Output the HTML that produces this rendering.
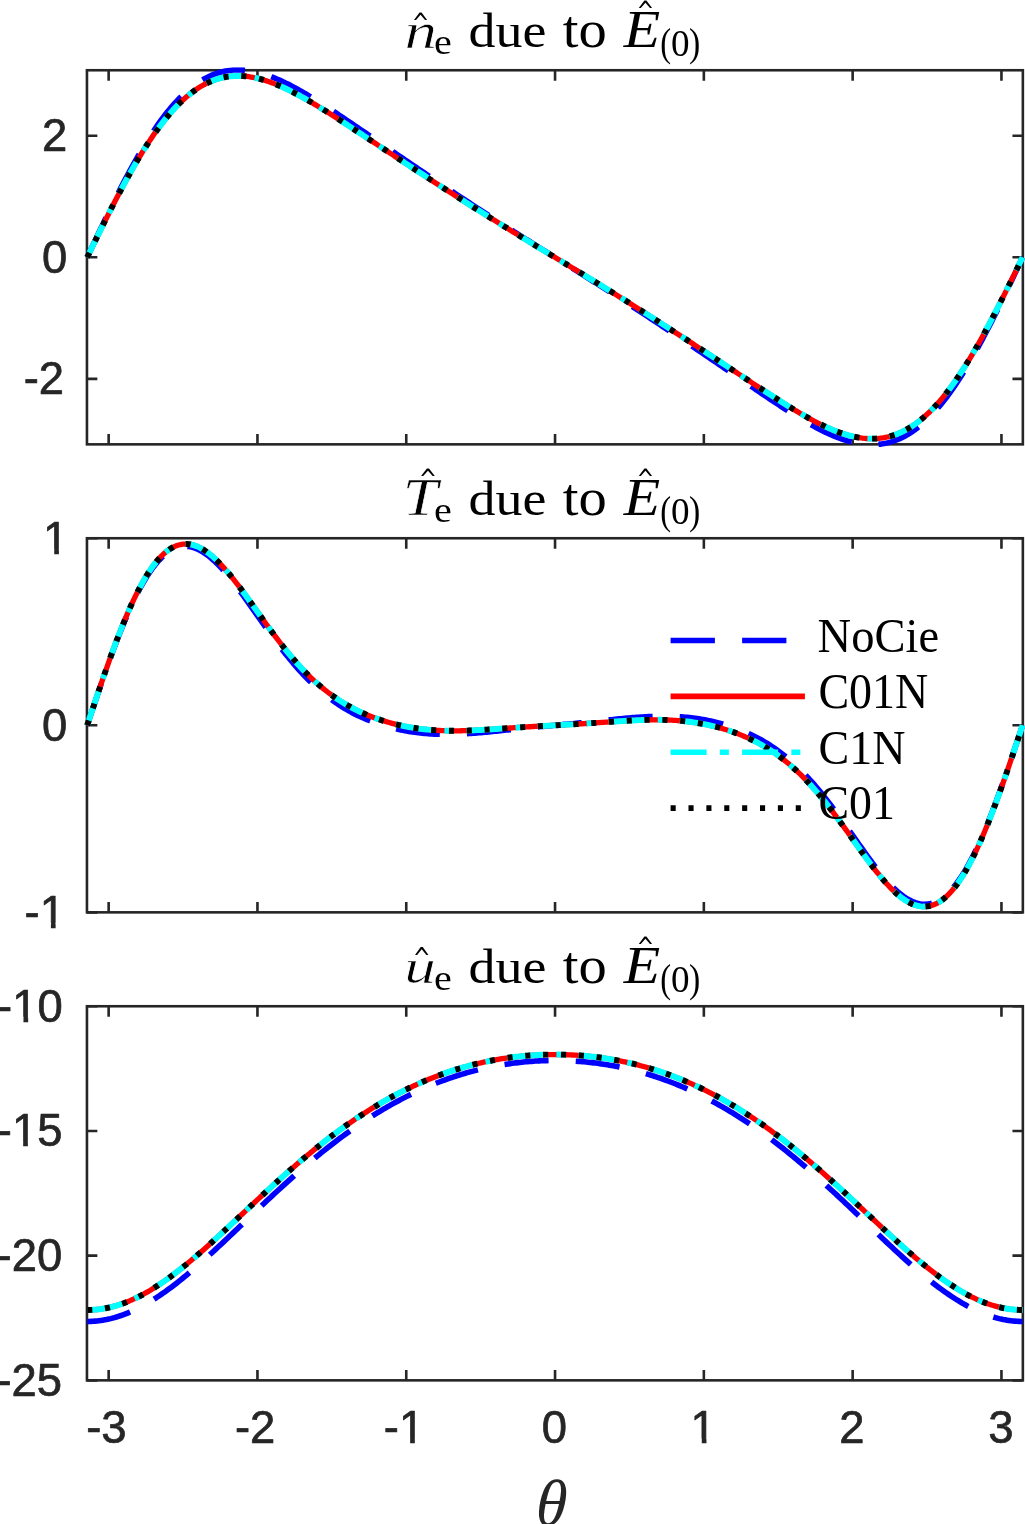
<!DOCTYPE html>
<html><head><meta charset="utf-8"><title>plot</title><style>html,body{margin:0;padding:0;background:#fff}svg{display:block;will-change:transform}</style></head><body>
<svg width="1025" height="1524" viewBox="0 0 1025 1524">
<rect width="1025" height="1524" fill="#fff"/>
<g stroke="#262626" stroke-width="2.60" fill="none">
<rect x="86.95" y="70.25" width="935.90" height="374.10"/>
<path d="M108.65 444.35V433.95 M108.65 70.25V80.65 M257.45 444.35V433.95 M257.45 70.25V80.65 M406.25 444.35V433.95 M406.25 70.25V80.65 M555.05 444.35V433.95 M555.05 70.25V80.65 M703.85 444.35V433.95 M703.85 70.25V80.65 M852.65 444.35V433.95 M852.65 70.25V80.65 M1001.45 444.35V433.95 M1001.45 70.25V80.65 M86.95 135.74H97.35 M1022.85 135.74H1012.45 M86.95 257.30H97.35 M1022.85 257.30H1012.45 M86.95 378.86H97.35 M1022.85 378.86H1012.45 "/>
</g>
<g stroke="#262626" stroke-width="2.60" fill="none">
<rect x="86.95" y="538.25" width="935.90" height="374.10"/>
<path d="M108.65 912.35V901.95 M108.65 538.25V548.65 M257.45 912.35V901.95 M257.45 538.25V548.65 M406.25 912.35V901.95 M406.25 538.25V548.65 M555.05 912.35V901.95 M555.05 538.25V548.65 M703.85 912.35V901.95 M703.85 538.25V548.65 M852.65 912.35V901.95 M852.65 538.25V548.65 M1001.45 912.35V901.95 M1001.45 538.25V548.65 M86.95 538.25H97.35 M1022.85 538.25H1012.45 M86.95 725.30H97.35 M1022.85 725.30H1012.45 M86.95 912.35H97.35 M1022.85 912.35H1012.45 "/>
</g>
<g stroke="#262626" stroke-width="2.60" fill="none">
<rect x="86.95" y="1006.25" width="935.90" height="374.10"/>
<path d="M108.65 1380.35V1369.95 M108.65 1006.25V1016.65 M257.45 1380.35V1369.95 M257.45 1006.25V1016.65 M406.25 1380.35V1369.95 M406.25 1006.25V1016.65 M555.05 1380.35V1369.95 M555.05 1006.25V1016.65 M703.85 1380.35V1369.95 M703.85 1006.25V1016.65 M852.65 1380.35V1369.95 M852.65 1006.25V1016.65 M1001.45 1380.35V1369.95 M1001.45 1006.25V1016.65 M86.95 1006.25H97.35 M1022.85 1006.25H1012.45 M86.95 1130.95H97.35 M1022.85 1130.95H1012.45 M86.95 1255.65H97.35 M1022.85 1255.65H1012.45 M86.95 1380.35H97.35 M1022.85 1380.35H1012.45 "/>
</g>
<clipPath id="c1"><rect x="83.95" y="67.25" width="941.90" height="380.10"/></clipPath>
<g clip-path="url(#c1)" fill="none" stroke-width="5.56" stroke-linejoin="round">
<path d="M87.21 257.30 L89.16 253.16 L91.11 249.02 L93.06 244.89 L95.01 240.77 L96.95 236.65 L98.90 232.55 L100.85 228.46 L102.80 224.38 L104.75 220.33 L106.70 216.30 L108.65 212.29 L110.60 208.30 L112.54 204.34 L114.49 200.42 L116.44 196.52 L118.39 192.66 L120.34 188.83 L122.29 185.05 L124.24 181.30 L126.19 177.59 L128.13 173.93 L130.08 170.32 L132.03 166.75 L133.98 163.23 L135.93 159.76 L137.88 156.35 L139.83 152.99 L141.77 149.68 L143.72 146.43 L145.67 143.24 L147.62 140.11 L149.57 137.04 L151.52 134.04 L153.47 131.09 L155.42 128.21 L157.36 125.40 L159.31 122.65 L161.26 119.97 L163.21 117.36 L165.16 114.81 L167.11 112.34 L169.06 109.93 L171.01 107.60 L172.95 105.34 L174.90 103.15 L176.85 101.03 L178.80 98.98 L180.75 97.00 L182.70 95.10 L184.65 93.27 L186.59 91.51 L188.54 89.83 L190.49 88.21 L192.44 86.67 L194.39 85.20 L196.34 83.81 L198.29 82.48 L200.24 81.22 L202.18 80.04 L204.13 78.92 L206.08 77.88 L208.03 76.90 L209.98 75.99 L211.93 75.15 L213.88 74.37 L215.83 73.66 L217.77 73.02 L219.72 72.44 L221.67 71.92 L223.62 71.47 L225.57 71.07 L227.52 70.74 L229.47 70.47 L231.42 70.25 L233.36 70.09 L235.31 69.99 L237.26 69.95 L239.21 69.95 L241.16 70.01 L243.11 70.12 L245.06 70.28 L247.00 70.49 L248.95 70.75 L250.90 71.06 L252.85 71.41 L254.80 71.80 L256.75 72.24 L258.70 72.72 L260.65 73.24 L262.59 73.80 L264.54 74.40 L266.49 75.03 L268.44 75.70 L270.39 76.41 L272.34 77.14 L274.29 77.91 L276.24 78.72 L278.18 79.55 L280.13 80.41 L282.08 81.29 L284.03 82.21 L285.98 83.14 L287.93 84.11 L289.88 85.09 L291.82 86.10 L293.77 87.13 L295.72 88.18 L297.67 89.25 L299.62 90.34 L301.57 91.44 L303.52 92.57 L305.47 93.70 L307.41 94.85 L309.36 96.02 L311.31 97.20 L313.26 98.39 L315.21 99.59 L317.16 100.81 L319.11 102.03 L321.06 103.27 L323.00 104.51 L324.95 105.76 L326.90 107.02 L328.85 108.29 L330.80 109.56 L332.75 110.84 L334.70 112.13 L336.65 113.42 L338.59 114.72 L340.54 116.02 L342.49 117.32 L344.44 118.63 L346.39 119.94 L348.34 121.26 L350.29 122.57 L352.23 123.89 L354.18 125.21 L356.13 126.54 L358.08 127.86 L360.03 129.19 L361.98 130.52 L363.93 131.84 L365.88 133.17 L367.82 134.50 L369.77 135.83 L371.72 137.16 L373.67 138.49 L375.62 139.82 L377.57 141.15 L379.52 142.48 L381.47 143.81 L383.41 145.14 L385.36 146.47 L387.31 147.80 L389.26 149.13 L391.21 150.46 L393.16 151.79 L395.11 153.11 L397.05 154.44 L399.00 155.76 L400.95 157.09 L402.90 158.41 L404.85 159.73 L406.80 161.05 L408.75 162.37 L410.70 163.69 L412.64 165.01 L414.59 166.33 L416.54 167.64 L418.49 168.96 L420.44 170.27 L422.39 171.58 L424.34 172.90 L426.29 174.21 L428.23 175.51 L430.18 176.82 L432.13 178.13 L434.08 179.43 L436.03 180.74 L437.98 182.04 L439.93 183.34 L441.88 184.64 L443.82 185.94 L445.77 187.24 L447.72 188.54 L449.67 189.83 L451.62 191.12 L453.57 192.41 L455.52 193.70 L457.46 194.99 L459.41 196.28 L461.36 197.56 L463.31 198.85 L465.26 200.13 L467.21 201.41 L469.16 202.69 L471.11 203.96 L473.05 205.24 L475.00 206.51 L476.95 207.78 L478.90 209.05 L480.85 210.32 L482.80 211.58 L484.75 212.85 L486.70 214.11 L488.64 215.37 L490.59 216.63 L492.54 217.88 L494.49 219.14 L496.44 220.39 L498.39 221.64 L500.34 222.89 L502.28 224.14 L504.23 225.38 L506.18 226.63 L508.13 227.87 L510.08 229.11 L512.03 230.35 L513.98 231.58 L515.93 232.82 L517.87 234.05 L519.82 235.29 L521.77 236.52 L523.72 237.75 L525.67 238.98 L527.62 240.20 L529.57 241.43 L531.52 242.65 L533.46 243.88 L535.41 245.10 L537.36 246.32 L539.31 247.55 L541.26 248.77 L543.21 249.99 L545.16 251.21 L547.11 252.43 L549.05 253.64 L551.00 254.86 L552.95 256.08 L554.90 257.30 L556.85 258.52 L558.80 259.74 L560.75 260.96 L562.69 262.17 L564.64 263.39 L566.59 264.61 L568.54 265.83 L570.49 267.05 L572.44 268.28 L574.39 269.50 L576.34 270.72 L578.28 271.95 L580.23 273.17 L582.18 274.40 L584.13 275.62 L586.08 276.85 L588.03 278.08 L589.98 279.31 L591.93 280.55 L593.87 281.78 L595.82 283.02 L597.77 284.25 L599.72 285.49 L601.67 286.73 L603.62 287.97 L605.57 289.22 L607.52 290.46 L609.46 291.71 L611.41 292.96 L613.36 294.21 L615.31 295.46 L617.26 296.72 L619.21 297.97 L621.16 299.23 L623.10 300.49 L625.05 301.75 L627.00 303.02 L628.95 304.28 L630.90 305.55 L632.85 306.82 L634.80 308.09 L636.75 309.36 L638.69 310.64 L640.64 311.91 L642.59 313.19 L644.54 314.47 L646.49 315.75 L648.44 317.04 L650.39 318.32 L652.34 319.61 L654.28 320.90 L656.23 322.19 L658.18 323.48 L660.13 324.77 L662.08 326.06 L664.03 327.36 L665.98 328.66 L667.92 329.96 L669.87 331.26 L671.82 332.56 L673.77 333.86 L675.72 335.17 L677.67 336.47 L679.62 337.78 L681.57 339.09 L683.51 340.39 L685.46 341.70 L687.41 343.02 L689.36 344.33 L691.31 345.64 L693.26 346.96 L695.21 348.27 L697.16 349.59 L699.10 350.91 L701.05 352.23 L703.00 353.55 L704.95 354.87 L706.90 356.19 L708.85 357.51 L710.80 358.84 L712.75 360.16 L714.69 361.49 L716.64 362.81 L718.59 364.14 L720.54 365.47 L722.49 366.80 L724.44 368.13 L726.39 369.46 L728.33 370.79 L730.28 372.12 L732.23 373.45 L734.18 374.78 L736.13 376.11 L738.08 377.44 L740.03 378.77 L741.98 380.10 L743.92 381.43 L745.87 382.76 L747.82 384.08 L749.77 385.41 L751.72 386.74 L753.67 388.06 L755.62 389.39 L757.57 390.71 L759.51 392.03 L761.46 393.34 L763.41 394.66 L765.36 395.97 L767.31 397.28 L769.26 398.58 L771.21 399.88 L773.15 401.18 L775.10 402.47 L777.05 403.76 L779.00 405.04 L780.95 406.31 L782.90 407.58 L784.85 408.84 L786.80 410.09 L788.74 411.33 L790.69 412.57 L792.64 413.79 L794.59 415.01 L796.54 416.21 L798.49 417.40 L800.44 418.58 L802.39 419.75 L804.33 420.90 L806.28 422.03 L808.23 423.16 L810.18 424.26 L812.13 425.35 L814.08 426.42 L816.03 427.47 L817.98 428.50 L819.92 429.51 L821.87 430.49 L823.82 431.46 L825.77 432.39 L827.72 433.31 L829.67 434.19 L831.62 435.05 L833.56 435.88 L835.51 436.69 L837.46 437.46 L839.41 438.19 L841.36 438.90 L843.31 439.57 L845.26 440.20 L847.21 440.80 L849.15 441.36 L851.10 441.88 L853.05 442.36 L855.00 442.80 L856.95 443.19 L858.90 443.54 L860.85 443.85 L862.80 444.11 L864.74 444.32 L866.69 444.48 L868.64 444.59 L870.59 444.65 L872.54 444.65 L874.49 444.61 L876.44 444.51 L878.38 444.35 L880.33 444.13 L882.28 443.86 L884.23 443.53 L886.18 443.13 L888.13 442.68 L890.08 442.16 L892.03 441.58 L893.97 440.94 L895.92 440.23 L897.87 439.45 L899.82 438.61 L901.77 437.70 L903.72 436.72 L905.67 435.68 L907.62 434.56 L909.56 433.38 L911.51 432.12 L913.46 430.79 L915.41 429.40 L917.36 427.93 L919.31 426.39 L921.26 424.77 L923.21 423.09 L925.15 421.33 L927.10 419.50 L929.05 417.60 L931.00 415.62 L932.95 413.57 L934.90 411.45 L936.85 409.26 L938.79 407.00 L940.74 404.67 L942.69 402.26 L944.64 399.79 L946.59 397.24 L948.54 394.63 L950.49 391.95 L952.44 389.20 L954.38 386.39 L956.33 383.51 L958.28 380.56 L960.23 377.56 L962.18 374.49 L964.13 371.36 L966.08 368.17 L968.03 364.92 L969.97 361.61 L971.92 358.25 L973.87 354.84 L975.82 351.37 L977.77 347.85 L979.72 344.28 L981.67 340.67 L983.61 337.01 L985.56 333.30 L987.51 329.55 L989.46 325.77 L991.41 321.94 L993.36 318.08 L995.31 314.18 L997.26 310.26 L999.20 306.30 L1001.15 302.31 L1003.10 298.30 L1005.05 294.27 L1007.00 290.22 L1008.95 286.14 L1010.90 282.05 L1012.85 277.95 L1014.79 273.83 L1016.74 269.71 L1018.69 265.58 L1020.64 261.44 L1022.59 257.30" stroke="#0000ff" stroke-dasharray="44.238 27.162"/>
<defs><path id="m1" d="M87.21 257.30 L89.16 253.29 L91.11 249.29 L93.06 245.29 L95.01 241.29 L96.95 237.31 L98.90 233.34 L100.85 229.38 L102.80 225.44 L104.75 221.51 L106.70 217.61 L108.65 213.72 L110.60 209.87 L112.54 206.04 L114.49 202.23 L116.44 198.46 L118.39 194.72 L120.34 191.02 L122.29 187.36 L124.24 183.73 L126.19 180.14 L128.13 176.60 L130.08 173.10 L132.03 169.64 L133.98 166.24 L135.93 162.88 L137.88 159.57 L139.83 156.32 L141.77 153.12 L143.72 149.97 L145.67 146.89 L147.62 143.86 L149.57 140.88 L151.52 137.97 L153.47 135.12 L155.42 132.34 L157.36 129.61 L159.31 126.95 L161.26 124.36 L163.21 121.83 L165.16 119.36 L167.11 116.97 L169.06 114.64 L171.01 112.38 L172.95 110.19 L174.90 108.07 L176.85 106.02 L178.80 104.04 L180.75 102.13 L182.70 100.28 L184.65 98.51 L186.59 96.81 L188.54 95.18 L190.49 93.62 L192.44 92.12 L194.39 90.70 L196.34 89.35 L198.29 88.06 L200.24 86.85 L202.18 85.70 L204.13 84.62 L206.08 83.61 L208.03 82.66 L209.98 81.78 L211.93 80.97 L213.88 80.22 L215.83 79.53 L217.77 78.91 L219.72 78.34 L221.67 77.84 L223.62 77.40 L225.57 77.02 L227.52 76.70 L229.47 76.44 L231.42 76.23 L233.36 76.07 L235.31 75.98 L237.26 75.93 L239.21 75.94 L241.16 75.99 L243.11 76.10 L245.06 76.26 L247.00 76.46 L248.95 76.71 L250.90 77.01 L252.85 77.35 L254.80 77.73 L256.75 78.15 L258.70 78.62 L260.65 79.12 L262.59 79.66 L264.54 80.24 L266.49 80.85 L268.44 81.50 L270.39 82.19 L272.34 82.90 L274.29 83.65 L276.24 84.42 L278.18 85.22 L280.13 86.06 L282.08 86.92 L284.03 87.80 L285.98 88.71 L287.93 89.64 L289.88 90.60 L291.82 91.57 L293.77 92.57 L295.72 93.58 L297.67 94.62 L299.62 95.67 L301.57 96.74 L303.52 97.83 L305.47 98.93 L307.41 100.04 L309.36 101.17 L311.31 102.31 L313.26 103.47 L315.21 104.63 L317.16 105.81 L319.11 106.99 L321.06 108.19 L323.00 109.39 L324.95 110.60 L326.90 111.82 L328.85 113.05 L330.80 114.28 L332.75 115.52 L334.70 116.77 L336.65 118.02 L338.59 119.27 L340.54 120.53 L342.49 121.79 L344.44 123.06 L346.39 124.33 L348.34 125.60 L350.29 126.88 L352.23 128.15 L354.18 129.43 L356.13 130.71 L358.08 132.00 L360.03 133.28 L361.98 134.57 L363.93 135.85 L365.88 137.14 L367.82 138.43 L369.77 139.71 L371.72 141.00 L373.67 142.29 L375.62 143.58 L377.57 144.86 L379.52 146.15 L381.47 147.44 L383.41 148.73 L385.36 150.01 L387.31 151.30 L389.26 152.59 L391.21 153.87 L393.16 155.16 L395.11 156.44 L397.05 157.72 L399.00 159.01 L400.95 160.29 L402.90 161.57 L404.85 162.85 L406.80 164.13 L408.75 165.40 L410.70 166.68 L412.64 167.96 L414.59 169.23 L416.54 170.51 L418.49 171.78 L420.44 173.05 L422.39 174.32 L424.34 175.59 L426.29 176.86 L428.23 178.13 L430.18 179.39 L432.13 180.66 L434.08 181.92 L436.03 183.18 L437.98 184.45 L439.93 185.71 L441.88 186.96 L443.82 188.22 L445.77 189.48 L447.72 190.73 L449.67 191.99 L451.62 193.24 L453.57 194.49 L455.52 195.74 L457.46 196.98 L459.41 198.23 L461.36 199.47 L463.31 200.71 L465.26 201.96 L467.21 203.19 L469.16 204.43 L471.11 205.67 L473.05 206.90 L475.00 208.13 L476.95 209.36 L478.90 210.59 L480.85 211.82 L482.80 213.04 L484.75 214.27 L486.70 215.49 L488.64 216.71 L490.59 217.93 L492.54 219.14 L494.49 220.36 L496.44 221.57 L498.39 222.78 L500.34 223.99 L502.28 225.20 L504.23 226.40 L506.18 227.61 L508.13 228.81 L510.08 230.01 L512.03 231.21 L513.98 232.41 L515.93 233.60 L517.87 234.80 L519.82 235.99 L521.77 237.18 L523.72 238.37 L525.67 239.56 L527.62 240.75 L529.57 241.94 L531.52 243.12 L533.46 244.31 L535.41 245.49 L537.36 246.67 L539.31 247.86 L541.26 249.04 L543.21 250.22 L545.16 251.40 L547.11 252.58 L549.05 253.76 L551.00 254.94 L552.95 256.12 L554.90 257.30 L556.85 258.48 L558.80 259.66 L560.75 260.84 L562.69 262.02 L564.64 263.20 L566.59 264.38 L568.54 265.56 L570.49 266.74 L572.44 267.93 L574.39 269.11 L576.34 270.29 L578.28 271.48 L580.23 272.66 L582.18 273.85 L584.13 275.04 L586.08 276.23 L588.03 277.42 L589.98 278.61 L591.93 279.80 L593.87 281.00 L595.82 282.19 L597.77 283.39 L599.72 284.59 L601.67 285.79 L603.62 286.99 L605.57 288.20 L607.52 289.40 L609.46 290.61 L611.41 291.82 L613.36 293.03 L615.31 294.24 L617.26 295.46 L619.21 296.67 L621.16 297.89 L623.10 299.11 L625.05 300.33 L627.00 301.56 L628.95 302.78 L630.90 304.01 L632.85 305.24 L634.80 306.47 L636.75 307.70 L638.69 308.93 L640.64 310.17 L642.59 311.41 L644.54 312.64 L646.49 313.89 L648.44 315.13 L650.39 316.37 L652.34 317.62 L654.28 318.86 L656.23 320.11 L658.18 321.36 L660.13 322.61 L662.08 323.87 L664.03 325.12 L665.98 326.38 L667.92 327.64 L669.87 328.89 L671.82 330.15 L673.77 331.42 L675.72 332.68 L677.67 333.94 L679.62 335.21 L681.57 336.47 L683.51 337.74 L685.46 339.01 L687.41 340.28 L689.36 341.55 L691.31 342.82 L693.26 344.09 L695.21 345.37 L697.16 346.64 L699.10 347.92 L701.05 349.20 L703.00 350.47 L704.95 351.75 L706.90 353.03 L708.85 354.31 L710.80 355.59 L712.75 356.88 L714.69 358.16 L716.64 359.44 L718.59 360.73 L720.54 362.01 L722.49 363.30 L724.44 364.59 L726.39 365.87 L728.33 367.16 L730.28 368.45 L732.23 369.74 L734.18 371.02 L736.13 372.31 L738.08 373.60 L740.03 374.89 L741.98 376.17 L743.92 377.46 L745.87 378.75 L747.82 380.03 L749.77 381.32 L751.72 382.60 L753.67 383.89 L755.62 385.17 L757.57 386.45 L759.51 387.72 L761.46 389.00 L763.41 390.27 L765.36 391.54 L767.31 392.81 L769.26 394.07 L771.21 395.33 L773.15 396.58 L775.10 397.83 L777.05 399.08 L779.00 400.32 L780.95 401.55 L782.90 402.78 L784.85 404.00 L786.80 405.21 L788.74 406.41 L790.69 407.61 L792.64 408.79 L794.59 409.97 L796.54 411.13 L798.49 412.29 L800.44 413.43 L802.39 414.56 L804.33 415.67 L806.28 416.77 L808.23 417.86 L810.18 418.93 L812.13 419.98 L814.08 421.02 L816.03 422.03 L817.98 423.03 L819.92 424.00 L821.87 424.96 L823.82 425.89 L825.77 426.80 L827.72 427.68 L829.67 428.54 L831.62 429.38 L833.56 430.18 L835.51 430.95 L837.46 431.70 L839.41 432.41 L841.36 433.10 L843.31 433.75 L845.26 434.36 L847.21 434.94 L849.15 435.48 L851.10 435.98 L853.05 436.45 L855.00 436.87 L856.95 437.25 L858.90 437.59 L860.85 437.89 L862.80 438.14 L864.74 438.34 L866.69 438.50 L868.64 438.61 L870.59 438.66 L872.54 438.67 L874.49 438.62 L876.44 438.53 L878.38 438.37 L880.33 438.16 L882.28 437.90 L884.23 437.58 L886.18 437.20 L888.13 436.76 L890.08 436.26 L892.03 435.69 L893.97 435.07 L895.92 434.38 L897.87 433.63 L899.82 432.82 L901.77 431.94 L903.72 430.99 L905.67 429.98 L907.62 428.90 L909.56 427.75 L911.51 426.54 L913.46 425.25 L915.41 423.90 L917.36 422.48 L919.31 420.98 L921.26 419.42 L923.21 417.79 L925.15 416.09 L927.10 414.32 L929.05 412.47 L931.00 410.56 L932.95 408.58 L934.90 406.53 L936.85 404.41 L938.79 402.22 L940.74 399.96 L942.69 397.63 L944.64 395.24 L946.59 392.77 L948.54 390.24 L950.49 387.65 L952.44 384.99 L954.38 382.26 L956.33 379.48 L958.28 376.63 L960.23 373.72 L962.18 370.74 L964.13 367.71 L966.08 364.63 L968.03 361.48 L969.97 358.28 L971.92 355.03 L973.87 351.72 L975.82 348.36 L977.77 344.96 L979.72 341.50 L981.67 338.00 L983.61 334.46 L985.56 330.87 L987.51 327.24 L989.46 323.58 L991.41 319.88 L993.36 316.14 L995.31 312.37 L997.26 308.56 L999.20 304.73 L1001.15 300.88 L1003.10 296.99 L1005.05 293.09 L1007.00 289.16 L1008.95 285.22 L1010.90 281.26 L1012.85 277.29 L1014.79 273.31 L1016.74 269.31 L1018.69 265.31 L1020.64 261.31 L1022.59 257.30"/></defs>
<use href="#m1" stroke="#ff0000" stroke-width="5.3"/>
<use href="#m1" stroke="#00ffff" stroke-width="5.9" stroke-dasharray="35.950 13.231 8.987 13.231"/>
<use href="#m1" stroke="#000000" stroke-width="5.9" stroke-dasharray="5.093 12.762"/>
</g>
<clipPath id="c2"><rect x="83.95" y="535.25" width="941.90" height="380.10"/></clipPath>
<g clip-path="url(#c2)" fill="none" stroke-width="5.56" stroke-linejoin="round">
<path d="M87.21 725.30 L89.16 719.49 L91.11 713.68 L93.06 707.89 L95.01 702.11 L96.95 696.36 L98.90 690.65 L100.85 684.97 L102.80 679.34 L104.75 673.77 L106.70 668.25 L108.65 662.79 L110.60 657.41 L112.54 652.10 L114.49 646.88 L116.44 641.74 L118.39 636.69 L120.34 631.75 L122.29 626.91 L124.24 622.17 L126.19 617.55 L128.13 613.05 L130.08 608.67 L132.03 604.42 L133.98 600.29 L135.93 596.31 L137.88 592.46 L139.83 588.75 L141.77 585.18 L143.72 581.76 L145.67 578.50 L147.62 575.38 L149.57 572.42 L151.52 569.61 L153.47 566.96 L155.42 564.47 L157.36 562.14 L159.31 559.97 L161.26 557.97 L163.21 556.12 L165.16 554.44 L167.11 552.91 L169.06 551.55 L171.01 550.35 L172.95 549.31 L174.90 548.43 L176.85 547.70 L178.80 547.14 L180.75 546.72 L182.70 546.46 L184.65 546.34 L186.59 546.38 L188.54 546.56 L190.49 546.88 L192.44 547.34 L194.39 547.93 L196.34 548.66 L198.29 549.52 L200.24 550.50 L202.18 551.61 L204.13 552.83 L206.08 554.16 L208.03 555.61 L209.98 557.16 L211.93 558.82 L213.88 560.57 L215.83 562.41 L217.77 564.35 L219.72 566.36 L221.67 568.46 L223.62 570.63 L225.57 572.87 L227.52 575.18 L229.47 577.55 L231.42 579.97 L233.36 582.45 L235.31 584.98 L237.26 587.54 L239.21 590.15 L241.16 592.79 L243.11 595.46 L245.06 598.16 L247.00 600.88 L248.95 603.62 L250.90 606.37 L252.85 609.13 L254.80 611.90 L256.75 614.67 L258.70 617.44 L260.65 620.20 L262.59 622.96 L264.54 625.70 L266.49 628.44 L268.44 631.15 L270.39 633.85 L272.34 636.52 L274.29 639.17 L276.24 641.80 L278.18 644.39 L280.13 646.95 L282.08 649.48 L284.03 651.98 L285.98 654.44 L287.93 656.86 L289.88 659.25 L291.82 661.59 L293.77 663.89 L295.72 666.15 L297.67 668.37 L299.62 670.54 L301.57 672.67 L303.52 674.75 L305.47 676.79 L307.41 678.78 L309.36 680.73 L311.31 682.63 L313.26 684.49 L315.21 686.30 L317.16 688.07 L319.11 689.79 L321.06 691.46 L323.00 693.09 L324.95 694.68 L326.90 696.23 L328.85 697.73 L330.80 699.19 L332.75 700.61 L334.70 701.99 L336.65 703.33 L338.59 704.63 L340.54 705.89 L342.49 707.12 L344.44 708.30 L346.39 709.46 L348.34 710.57 L350.29 711.65 L352.23 712.70 L354.18 713.72 L356.13 714.70 L358.08 715.65 L360.03 716.58 L361.98 717.47 L363.93 718.33 L365.88 719.17 L367.82 719.97 L369.77 720.75 L371.72 721.51 L373.67 722.23 L375.62 722.94 L377.57 723.61 L379.52 724.27 L381.47 724.90 L383.41 725.50 L385.36 726.09 L387.31 726.65 L389.26 727.19 L391.21 727.70 L393.16 728.20 L395.11 728.67 L397.05 729.13 L399.00 729.56 L400.95 729.97 L402.90 730.37 L404.85 730.74 L406.80 731.09 L408.75 731.43 L410.70 731.74 L412.64 732.04 L414.59 732.31 L416.54 732.57 L418.49 732.81 L420.44 733.04 L422.39 733.24 L424.34 733.43 L426.29 733.60 L428.23 733.75 L430.18 733.89 L432.13 734.01 L434.08 734.11 L436.03 734.20 L437.98 734.27 L439.93 734.32 L441.88 734.36 L443.82 734.39 L445.77 734.40 L447.72 734.40 L449.67 734.38 L451.62 734.35 L453.57 734.31 L455.52 734.26 L457.46 734.19 L459.41 734.11 L461.36 734.02 L463.31 733.92 L465.26 733.82 L467.21 733.70 L469.16 733.57 L471.11 733.43 L473.05 733.29 L475.00 733.14 L476.95 732.98 L478.90 732.82 L480.85 732.65 L482.80 732.47 L484.75 732.29 L486.70 732.11 L488.64 731.92 L490.59 731.73 L492.54 731.53 L494.49 731.33 L496.44 731.13 L498.39 730.93 L500.34 730.73 L502.28 730.52 L504.23 730.32 L506.18 730.11 L508.13 729.91 L510.08 729.70 L512.03 729.50 L513.98 729.30 L515.93 729.09 L517.87 728.89 L519.82 728.69 L521.77 728.49 L523.72 728.29 L525.67 728.10 L527.62 727.90 L529.57 727.71 L531.52 727.52 L533.46 727.33 L535.41 727.14 L537.36 726.95 L539.31 726.76 L541.26 726.58 L543.21 726.39 L545.16 726.21 L547.11 726.03 L549.05 725.84 L551.00 725.66 L552.95 725.48 L554.90 725.30 L556.85 725.12 L558.80 724.94 L560.75 724.76 L562.69 724.57 L564.64 724.39 L566.59 724.21 L568.54 724.02 L570.49 723.84 L572.44 723.65 L574.39 723.46 L576.34 723.27 L578.28 723.08 L580.23 722.89 L582.18 722.70 L584.13 722.50 L586.08 722.31 L588.03 722.11 L589.98 721.91 L591.93 721.71 L593.87 721.51 L595.82 721.30 L597.77 721.10 L599.72 720.90 L601.67 720.69 L603.62 720.49 L605.57 720.28 L607.52 720.08 L609.46 719.87 L611.41 719.67 L613.36 719.47 L615.31 719.27 L617.26 719.07 L619.21 718.87 L621.16 718.68 L623.10 718.49 L625.05 718.31 L627.00 718.13 L628.95 717.95 L630.90 717.78 L632.85 717.62 L634.80 717.46 L636.75 717.31 L638.69 717.17 L640.64 717.03 L642.59 716.90 L644.54 716.78 L646.49 716.68 L648.44 716.58 L650.39 716.49 L652.34 716.41 L654.28 716.34 L656.23 716.29 L658.18 716.25 L660.13 716.22 L662.08 716.20 L664.03 716.20 L665.98 716.21 L667.92 716.24 L669.87 716.28 L671.82 716.33 L673.77 716.40 L675.72 716.49 L677.67 716.59 L679.62 716.71 L681.57 716.85 L683.51 717.00 L685.46 717.17 L687.41 717.36 L689.36 717.56 L691.31 717.79 L693.26 718.03 L695.21 718.29 L697.16 718.56 L699.10 718.86 L701.05 719.17 L703.00 719.51 L704.95 719.86 L706.90 720.23 L708.85 720.63 L710.80 721.04 L712.75 721.47 L714.69 721.93 L716.64 722.40 L718.59 722.90 L720.54 723.41 L722.49 723.95 L724.44 724.51 L726.39 725.10 L728.33 725.70 L730.28 726.33 L732.23 726.99 L734.18 727.66 L736.13 728.37 L738.08 729.09 L740.03 729.85 L741.98 730.63 L743.92 731.43 L745.87 732.27 L747.82 733.13 L749.77 734.02 L751.72 734.95 L753.67 735.90 L755.62 736.88 L757.57 737.90 L759.51 738.95 L761.46 740.03 L763.41 741.14 L765.36 742.30 L767.31 743.48 L769.26 744.71 L771.21 745.97 L773.15 747.27 L775.10 748.61 L777.05 749.99 L779.00 751.41 L780.95 752.87 L782.90 754.37 L784.85 755.92 L786.80 757.51 L788.74 759.14 L790.69 760.81 L792.64 762.53 L794.59 764.30 L796.54 766.11 L798.49 767.97 L800.44 769.87 L802.39 771.82 L804.33 773.81 L806.28 775.85 L808.23 777.93 L810.18 780.06 L812.13 782.23 L814.08 784.45 L816.03 786.71 L817.98 789.01 L819.92 791.35 L821.87 793.74 L823.82 796.16 L825.77 798.62 L827.72 801.12 L829.67 803.65 L831.62 806.21 L833.56 808.80 L835.51 811.43 L837.46 814.08 L839.41 816.75 L841.36 819.45 L843.31 822.16 L845.26 824.90 L847.21 827.64 L849.15 830.40 L851.10 833.16 L853.05 835.93 L855.00 838.70 L856.95 841.47 L858.90 844.23 L860.85 846.98 L862.80 849.72 L864.74 852.44 L866.69 855.14 L868.64 857.81 L870.59 860.45 L872.54 863.06 L874.49 865.62 L876.44 868.15 L878.38 870.63 L880.33 873.05 L882.28 875.42 L884.23 877.73 L886.18 879.97 L888.13 882.14 L890.08 884.24 L892.03 886.25 L893.97 888.19 L895.92 890.03 L897.87 891.78 L899.82 893.44 L901.77 894.99 L903.72 896.44 L905.67 897.77 L907.62 898.99 L909.56 900.10 L911.51 901.08 L913.46 901.94 L915.41 902.67 L917.36 903.26 L919.31 903.72 L921.26 904.04 L923.21 904.22 L925.15 904.26 L927.10 904.14 L929.05 903.88 L931.00 903.46 L932.95 902.90 L934.90 902.17 L936.85 901.29 L938.79 900.25 L940.74 899.05 L942.69 897.69 L944.64 896.16 L946.59 894.48 L948.54 892.63 L950.49 890.63 L952.44 888.46 L954.38 886.13 L956.33 883.64 L958.28 880.99 L960.23 878.18 L962.18 875.22 L964.13 872.10 L966.08 868.84 L968.03 865.42 L969.97 861.85 L971.92 858.14 L973.87 854.29 L975.82 850.31 L977.77 846.18 L979.72 841.93 L981.67 837.55 L983.61 833.05 L985.56 828.43 L987.51 823.69 L989.46 818.85 L991.41 813.91 L993.36 808.86 L995.31 803.72 L997.26 798.50 L999.20 793.19 L1001.15 787.81 L1003.10 782.35 L1005.05 776.83 L1007.00 771.26 L1008.95 765.63 L1010.90 759.95 L1012.85 754.24 L1014.79 748.49 L1016.74 742.71 L1018.69 736.92 L1020.64 731.11 L1022.59 725.30" stroke="#0000ff" stroke-dasharray="44.123 27.091"/>
<defs><path id="m2" d="M87.21 725.30 L89.16 719.44 L91.11 713.59 L93.06 707.75 L95.01 701.93 L96.95 696.13 L98.90 690.37 L100.85 684.65 L102.80 678.97 L104.75 673.35 L106.70 667.78 L108.65 662.28 L110.60 656.85 L112.54 651.50 L114.49 646.22 L116.44 641.04 L118.39 635.95 L120.34 630.96 L122.29 626.07 L124.24 621.29 L126.19 616.62 L128.13 612.07 L130.08 607.65 L132.03 603.35 L133.98 599.18 L135.93 595.14 L137.88 591.25 L139.83 587.49 L141.77 583.88 L143.72 580.42 L145.67 577.10 L147.62 573.94 L149.57 570.93 L151.52 568.08 L153.47 565.39 L155.42 562.85 L157.36 560.47 L159.31 558.26 L161.26 556.21 L163.21 554.31 L165.16 552.58 L167.11 551.02 L169.06 549.61 L171.01 548.36 L172.95 547.28 L174.90 546.35 L176.85 545.58 L178.80 544.97 L180.75 544.51 L182.70 544.20 L184.65 544.04 L186.59 544.03 L188.54 544.16 L190.49 544.44 L192.44 544.85 L194.39 545.41 L196.34 546.09 L198.29 546.90 L200.24 547.84 L202.18 548.90 L204.13 550.08 L206.08 551.38 L208.03 552.78 L209.98 554.29 L211.93 555.90 L213.88 557.61 L215.83 559.41 L217.77 561.30 L219.72 563.28 L221.67 565.33 L223.62 567.46 L225.57 569.66 L227.52 571.93 L229.47 574.26 L231.42 576.64 L233.36 579.08 L235.31 581.57 L237.26 584.10 L239.21 586.66 L241.16 589.27 L243.11 591.90 L245.06 594.56 L247.00 597.24 L248.95 599.94 L250.90 602.66 L252.85 605.38 L254.80 608.11 L256.75 610.85 L258.70 613.58 L260.65 616.31 L262.59 619.03 L264.54 621.75 L266.49 624.45 L268.44 627.13 L270.39 629.79 L272.34 632.44 L274.29 635.06 L276.24 637.65 L278.18 640.21 L280.13 642.75 L282.08 645.25 L284.03 647.72 L285.98 650.15 L287.93 652.54 L289.88 654.90 L291.82 657.22 L293.77 659.49 L295.72 661.73 L297.67 663.92 L299.62 666.07 L301.57 668.18 L303.52 670.24 L305.47 672.26 L307.41 674.23 L309.36 676.16 L311.31 678.04 L313.26 679.88 L315.21 681.67 L317.16 683.42 L319.11 685.13 L321.06 686.79 L323.00 688.40 L324.95 689.98 L326.90 691.51 L328.85 693.00 L330.80 694.45 L332.75 695.86 L334.70 697.23 L336.65 698.56 L338.59 699.86 L340.54 701.11 L342.49 702.33 L344.44 703.51 L346.39 704.66 L348.34 705.77 L350.29 706.85 L352.23 707.90 L354.18 708.92 L356.13 709.90 L358.08 710.85 L360.03 711.78 L361.98 712.67 L363.93 713.54 L365.88 714.38 L367.82 715.20 L369.77 715.98 L371.72 716.75 L373.67 717.48 L375.62 718.20 L377.57 718.89 L379.52 719.55 L381.47 720.19 L383.41 720.82 L385.36 721.41 L387.31 721.99 L389.26 722.55 L391.21 723.08 L393.16 723.60 L395.11 724.09 L397.05 724.57 L399.00 725.02 L400.95 725.46 L402.90 725.88 L404.85 726.28 L406.80 726.66 L408.75 727.02 L410.70 727.36 L412.64 727.69 L414.59 728.00 L416.54 728.29 L418.49 728.56 L420.44 728.82 L422.39 729.06 L424.34 729.28 L426.29 729.49 L428.23 729.68 L430.18 729.85 L432.13 730.01 L434.08 730.16 L436.03 730.29 L437.98 730.40 L439.93 730.50 L441.88 730.58 L443.82 730.66 L445.77 730.71 L447.72 730.76 L449.67 730.79 L451.62 730.81 L453.57 730.82 L455.52 730.82 L457.46 730.80 L459.41 730.78 L461.36 730.74 L463.31 730.70 L465.26 730.64 L467.21 730.58 L469.16 730.51 L471.11 730.43 L473.05 730.35 L475.00 730.26 L476.95 730.16 L478.90 730.05 L480.85 729.95 L482.80 729.83 L484.75 729.71 L486.70 729.59 L488.64 729.47 L490.59 729.34 L492.54 729.21 L494.49 729.08 L496.44 728.95 L498.39 728.81 L500.34 728.68 L502.28 728.54 L504.23 728.40 L506.18 728.27 L508.13 728.13 L510.08 728.00 L512.03 727.87 L513.98 727.73 L515.93 727.60 L517.87 727.47 L519.82 727.34 L521.77 727.22 L523.72 727.09 L525.67 726.97 L527.62 726.85 L529.57 726.73 L531.52 726.61 L533.46 726.49 L535.41 726.38 L537.36 726.27 L539.31 726.16 L541.26 726.05 L543.21 725.94 L545.16 725.83 L547.11 725.72 L549.05 725.62 L551.00 725.51 L552.95 725.41 L554.90 725.30 L556.85 725.19 L558.80 725.09 L560.75 724.98 L562.69 724.88 L564.64 724.77 L566.59 724.66 L568.54 724.55 L570.49 724.44 L572.44 724.33 L574.39 724.22 L576.34 724.11 L578.28 723.99 L580.23 723.87 L582.18 723.75 L584.13 723.63 L586.08 723.51 L588.03 723.38 L589.98 723.26 L591.93 723.13 L593.87 723.00 L595.82 722.87 L597.77 722.73 L599.72 722.60 L601.67 722.47 L603.62 722.33 L605.57 722.20 L607.52 722.06 L609.46 721.92 L611.41 721.79 L613.36 721.65 L615.31 721.52 L617.26 721.39 L619.21 721.26 L621.16 721.13 L623.10 721.01 L625.05 720.89 L627.00 720.77 L628.95 720.65 L630.90 720.55 L632.85 720.44 L634.80 720.34 L636.75 720.25 L638.69 720.17 L640.64 720.09 L642.59 720.02 L644.54 719.96 L646.49 719.90 L648.44 719.86 L650.39 719.82 L652.34 719.80 L654.28 719.78 L656.23 719.78 L658.18 719.79 L660.13 719.81 L662.08 719.84 L664.03 719.89 L665.98 719.94 L667.92 720.02 L669.87 720.10 L671.82 720.20 L673.77 720.31 L675.72 720.44 L677.67 720.59 L679.62 720.75 L681.57 720.92 L683.51 721.11 L685.46 721.32 L687.41 721.54 L689.36 721.78 L691.31 722.04 L693.26 722.31 L695.21 722.60 L697.16 722.91 L699.10 723.24 L701.05 723.58 L703.00 723.94 L704.95 724.32 L706.90 724.72 L708.85 725.14 L710.80 725.58 L712.75 726.03 L714.69 726.51 L716.64 727.00 L718.59 727.52 L720.54 728.05 L722.49 728.61 L724.44 729.19 L726.39 729.78 L728.33 730.41 L730.28 731.05 L732.23 731.71 L734.18 732.40 L736.13 733.12 L738.08 733.85 L740.03 734.62 L741.98 735.40 L743.92 736.22 L745.87 737.06 L747.82 737.93 L749.77 738.82 L751.72 739.75 L753.67 740.70 L755.62 741.68 L757.57 742.70 L759.51 743.75 L761.46 744.83 L763.41 745.94 L765.36 747.09 L767.31 748.27 L769.26 749.49 L771.21 750.74 L773.15 752.04 L775.10 753.37 L777.05 754.74 L779.00 756.15 L780.95 757.60 L782.90 759.09 L784.85 760.62 L786.80 762.20 L788.74 763.81 L790.69 765.47 L792.64 767.18 L794.59 768.93 L796.54 770.72 L798.49 772.56 L800.44 774.44 L802.39 776.37 L804.33 778.34 L806.28 780.36 L808.23 782.42 L810.18 784.53 L812.13 786.68 L814.08 788.87 L816.03 791.11 L817.98 793.38 L819.92 795.70 L821.87 798.06 L823.82 800.45 L825.77 802.88 L827.72 805.35 L829.67 807.85 L831.62 810.39 L833.56 812.95 L835.51 815.54 L837.46 818.16 L839.41 820.81 L841.36 823.47 L843.31 826.15 L845.26 828.85 L847.21 831.57 L849.15 834.29 L851.10 837.02 L853.05 839.75 L855.00 842.49 L856.95 845.22 L858.90 847.94 L860.85 850.66 L862.80 853.36 L864.74 856.04 L866.69 858.70 L868.64 861.33 L870.59 863.94 L872.54 866.50 L874.49 869.03 L876.44 871.52 L878.38 873.96 L880.33 876.34 L882.28 878.67 L884.23 880.94 L886.18 883.14 L888.13 885.27 L890.08 887.32 L892.03 889.30 L893.97 891.19 L895.92 892.99 L897.87 894.70 L899.82 896.31 L901.77 897.82 L903.72 899.22 L905.67 900.52 L907.62 901.70 L909.56 902.76 L911.51 903.70 L913.46 904.51 L915.41 905.19 L917.36 905.75 L919.31 906.16 L921.26 906.44 L923.21 906.57 L925.15 906.56 L927.10 906.40 L929.05 906.09 L931.00 905.63 L932.95 905.02 L934.90 904.25 L936.85 903.32 L938.79 902.24 L940.74 900.99 L942.69 899.58 L944.64 898.02 L946.59 896.29 L948.54 894.39 L950.49 892.34 L952.44 890.13 L954.38 887.75 L956.33 885.21 L958.28 882.52 L960.23 879.67 L962.18 876.66 L964.13 873.50 L966.08 870.18 L968.03 866.72 L969.97 863.11 L971.92 859.35 L973.87 855.46 L975.82 851.42 L977.77 847.25 L979.72 842.95 L981.67 838.53 L983.61 833.98 L985.56 829.31 L987.51 824.53 L989.46 819.64 L991.41 814.65 L993.36 809.56 L995.31 804.38 L997.26 799.10 L999.20 793.75 L1001.15 788.32 L1003.10 782.82 L1005.05 777.25 L1007.00 771.63 L1008.95 765.95 L1010.90 760.23 L1012.85 754.47 L1014.79 748.67 L1016.74 742.85 L1018.69 737.01 L1020.64 731.16 L1022.59 725.30"/></defs>
<use href="#m2" stroke="#ff0000" stroke-width="5.3"/>
<use href="#m2" stroke="#00ffff" stroke-width="5.9" stroke-dasharray="35.856 13.197 8.964 13.197"/>
<use href="#m2" stroke="#000000" stroke-width="5.9" stroke-dasharray="5.080 12.729"/>
</g>
<clipPath id="c3"><rect x="83.95" y="1003.25" width="941.90" height="380.10"/></clipPath>
<g clip-path="url(#c3)" fill="none" stroke-width="5.56" stroke-linejoin="round">
<path d="M87.21 1321.45 L89.16 1321.43 L91.11 1321.37 L93.06 1321.27 L95.01 1321.13 L96.95 1320.96 L98.90 1320.74 L100.85 1320.48 L102.80 1320.18 L104.75 1319.84 L106.70 1319.47 L108.65 1319.05 L110.60 1318.60 L112.54 1318.10 L114.49 1317.57 L116.44 1317.01 L118.39 1316.40 L120.34 1315.76 L122.29 1315.08 L124.24 1314.36 L126.19 1313.61 L128.13 1312.82 L130.08 1311.99 L132.03 1311.14 L133.98 1310.24 L135.93 1309.32 L137.88 1308.35 L139.83 1307.36 L141.77 1306.33 L143.72 1305.28 L145.67 1304.19 L147.62 1303.07 L149.57 1301.91 L151.52 1300.73 L153.47 1299.52 L155.42 1298.28 L157.36 1297.02 L159.31 1295.72 L161.26 1294.40 L163.21 1293.05 L165.16 1291.68 L167.11 1290.28 L169.06 1288.86 L171.01 1287.41 L172.95 1285.94 L174.90 1284.45 L176.85 1282.94 L178.80 1281.41 L180.75 1279.85 L182.70 1278.28 L184.65 1276.68 L186.59 1275.07 L188.54 1273.44 L190.49 1271.80 L192.44 1270.13 L194.39 1268.46 L196.34 1266.76 L198.29 1265.06 L200.24 1263.34 L202.18 1261.60 L204.13 1259.86 L206.08 1258.10 L208.03 1256.33 L209.98 1254.55 L211.93 1252.76 L213.88 1250.96 L215.83 1249.16 L217.77 1247.34 L219.72 1245.52 L221.67 1243.69 L223.62 1241.86 L225.57 1240.02 L227.52 1238.18 L229.47 1236.33 L231.42 1234.48 L233.36 1232.62 L235.31 1230.76 L237.26 1228.90 L239.21 1227.04 L241.16 1225.18 L243.11 1223.32 L245.06 1221.45 L247.00 1219.59 L248.95 1217.73 L250.90 1215.87 L252.85 1214.01 L254.80 1212.16 L256.75 1210.30 L258.70 1208.45 L260.65 1206.61 L262.59 1204.76 L264.54 1202.93 L266.49 1201.09 L268.44 1199.27 L270.39 1197.44 L272.34 1195.63 L274.29 1193.82 L276.24 1192.01 L278.18 1190.22 L280.13 1188.43 L282.08 1186.65 L284.03 1184.87 L285.98 1183.11 L287.93 1181.35 L289.88 1179.60 L291.82 1177.86 L293.77 1176.13 L295.72 1174.41 L297.67 1172.69 L299.62 1170.99 L301.57 1169.30 L303.52 1167.62 L305.47 1165.95 L307.41 1164.29 L309.36 1162.64 L311.31 1161.00 L313.26 1159.37 L315.21 1157.75 L317.16 1156.15 L319.11 1154.56 L321.06 1152.97 L323.00 1151.41 L324.95 1149.85 L326.90 1148.30 L328.85 1146.77 L330.80 1145.25 L332.75 1143.74 L334.70 1142.25 L336.65 1140.76 L338.59 1139.29 L340.54 1137.84 L342.49 1136.39 L344.44 1134.96 L346.39 1133.54 L348.34 1132.14 L350.29 1130.75 L352.23 1129.37 L354.18 1128.01 L356.13 1126.66 L358.08 1125.32 L360.03 1123.99 L361.98 1122.68 L363.93 1121.39 L365.88 1120.11 L367.82 1118.84 L369.77 1117.58 L371.72 1116.34 L373.67 1115.11 L375.62 1113.90 L377.57 1112.70 L379.52 1111.51 L381.47 1110.34 L383.41 1109.19 L385.36 1108.04 L387.31 1106.91 L389.26 1105.80 L391.21 1104.70 L393.16 1103.61 L395.11 1102.54 L397.05 1101.48 L399.00 1100.43 L400.95 1099.40 L402.90 1098.38 L404.85 1097.38 L406.80 1096.39 L408.75 1095.42 L410.70 1094.46 L412.64 1093.51 L414.59 1092.58 L416.54 1091.66 L418.49 1090.76 L420.44 1089.87 L422.39 1089.00 L424.34 1088.13 L426.29 1087.29 L428.23 1086.45 L430.18 1085.63 L432.13 1084.83 L434.08 1084.04 L436.03 1083.26 L437.98 1082.50 L439.93 1081.75 L441.88 1081.01 L443.82 1080.29 L445.77 1079.58 L447.72 1078.88 L449.67 1078.20 L451.62 1077.53 L453.57 1076.88 L455.52 1076.24 L457.46 1075.61 L459.41 1075.00 L461.36 1074.40 L463.31 1073.81 L465.26 1073.24 L467.21 1072.68 L469.16 1072.13 L471.11 1071.60 L473.05 1071.08 L475.00 1070.57 L476.95 1070.08 L478.90 1069.60 L480.85 1069.13 L482.80 1068.67 L484.75 1068.23 L486.70 1067.80 L488.64 1067.38 L490.59 1066.98 L492.54 1066.59 L494.49 1066.21 L496.44 1065.84 L498.39 1065.49 L500.34 1065.15 L502.28 1064.82 L504.23 1064.50 L506.18 1064.20 L508.13 1063.91 L510.08 1063.63 L512.03 1063.36 L513.98 1063.11 L515.93 1062.87 L517.87 1062.63 L519.82 1062.42 L521.77 1062.21 L523.72 1062.01 L525.67 1061.83 L527.62 1061.66 L529.57 1061.50 L531.52 1061.36 L533.46 1061.22 L535.41 1061.10 L537.36 1060.99 L539.31 1060.89 L541.26 1060.80 L543.21 1060.72 L545.16 1060.66 L547.11 1060.61 L549.05 1060.56 L551.00 1060.54 L552.95 1060.52 L554.90 1060.51 L556.85 1060.52 L558.80 1060.54 L560.75 1060.56 L562.69 1060.61 L564.64 1060.66 L566.59 1060.72 L568.54 1060.80 L570.49 1060.89 L572.44 1060.99 L574.39 1061.10 L576.34 1061.22 L578.28 1061.36 L580.23 1061.50 L582.18 1061.66 L584.13 1061.83 L586.08 1062.01 L588.03 1062.21 L589.98 1062.42 L591.93 1062.63 L593.87 1062.87 L595.82 1063.11 L597.77 1063.36 L599.72 1063.63 L601.67 1063.91 L603.62 1064.20 L605.57 1064.50 L607.52 1064.82 L609.46 1065.15 L611.41 1065.49 L613.36 1065.84 L615.31 1066.21 L617.26 1066.59 L619.21 1066.98 L621.16 1067.38 L623.10 1067.80 L625.05 1068.23 L627.00 1068.67 L628.95 1069.13 L630.90 1069.60 L632.85 1070.08 L634.80 1070.57 L636.75 1071.08 L638.69 1071.60 L640.64 1072.13 L642.59 1072.68 L644.54 1073.24 L646.49 1073.81 L648.44 1074.40 L650.39 1075.00 L652.34 1075.61 L654.28 1076.24 L656.23 1076.88 L658.18 1077.53 L660.13 1078.20 L662.08 1078.88 L664.03 1079.58 L665.98 1080.29 L667.92 1081.01 L669.87 1081.75 L671.82 1082.50 L673.77 1083.26 L675.72 1084.04 L677.67 1084.83 L679.62 1085.63 L681.57 1086.45 L683.51 1087.29 L685.46 1088.13 L687.41 1089.00 L689.36 1089.87 L691.31 1090.76 L693.26 1091.66 L695.21 1092.58 L697.16 1093.51 L699.10 1094.46 L701.05 1095.42 L703.00 1096.39 L704.95 1097.38 L706.90 1098.38 L708.85 1099.40 L710.80 1100.43 L712.75 1101.48 L714.69 1102.54 L716.64 1103.61 L718.59 1104.70 L720.54 1105.80 L722.49 1106.91 L724.44 1108.04 L726.39 1109.19 L728.33 1110.34 L730.28 1111.51 L732.23 1112.70 L734.18 1113.90 L736.13 1115.11 L738.08 1116.34 L740.03 1117.58 L741.98 1118.84 L743.92 1120.11 L745.87 1121.39 L747.82 1122.68 L749.77 1123.99 L751.72 1125.32 L753.67 1126.66 L755.62 1128.01 L757.57 1129.37 L759.51 1130.75 L761.46 1132.14 L763.41 1133.54 L765.36 1134.96 L767.31 1136.39 L769.26 1137.84 L771.21 1139.29 L773.15 1140.76 L775.10 1142.25 L777.05 1143.74 L779.00 1145.25 L780.95 1146.77 L782.90 1148.30 L784.85 1149.85 L786.80 1151.41 L788.74 1152.97 L790.69 1154.56 L792.64 1156.15 L794.59 1157.75 L796.54 1159.37 L798.49 1161.00 L800.44 1162.64 L802.39 1164.29 L804.33 1165.95 L806.28 1167.62 L808.23 1169.30 L810.18 1170.99 L812.13 1172.69 L814.08 1174.41 L816.03 1176.13 L817.98 1177.86 L819.92 1179.60 L821.87 1181.35 L823.82 1183.11 L825.77 1184.87 L827.72 1186.65 L829.67 1188.43 L831.62 1190.22 L833.56 1192.01 L835.51 1193.82 L837.46 1195.63 L839.41 1197.44 L841.36 1199.27 L843.31 1201.09 L845.26 1202.93 L847.21 1204.76 L849.15 1206.61 L851.10 1208.45 L853.05 1210.30 L855.00 1212.16 L856.95 1214.01 L858.90 1215.87 L860.85 1217.73 L862.80 1219.59 L864.74 1221.45 L866.69 1223.32 L868.64 1225.18 L870.59 1227.04 L872.54 1228.90 L874.49 1230.76 L876.44 1232.62 L878.38 1234.48 L880.33 1236.33 L882.28 1238.18 L884.23 1240.02 L886.18 1241.86 L888.13 1243.69 L890.08 1245.52 L892.03 1247.34 L893.97 1249.16 L895.92 1250.96 L897.87 1252.76 L899.82 1254.55 L901.77 1256.33 L903.72 1258.10 L905.67 1259.86 L907.62 1261.60 L909.56 1263.34 L911.51 1265.06 L913.46 1266.76 L915.41 1268.46 L917.36 1270.13 L919.31 1271.80 L921.26 1273.44 L923.21 1275.07 L925.15 1276.68 L927.10 1278.28 L929.05 1279.85 L931.00 1281.41 L932.95 1282.94 L934.90 1284.45 L936.85 1285.94 L938.79 1287.41 L940.74 1288.86 L942.69 1290.28 L944.64 1291.68 L946.59 1293.05 L948.54 1294.40 L950.49 1295.72 L952.44 1297.02 L954.38 1298.28 L956.33 1299.52 L958.28 1300.73 L960.23 1301.91 L962.18 1303.07 L964.13 1304.19 L966.08 1305.28 L968.03 1306.33 L969.97 1307.36 L971.92 1308.35 L973.87 1309.32 L975.82 1310.24 L977.77 1311.14 L979.72 1311.99 L981.67 1312.82 L983.61 1313.61 L985.56 1314.36 L987.51 1315.08 L989.46 1315.76 L991.41 1316.40 L993.36 1317.01 L995.31 1317.57 L997.26 1318.10 L999.20 1318.60 L1001.15 1319.05 L1003.10 1319.47 L1005.05 1319.84 L1007.00 1320.18 L1008.95 1320.48 L1010.90 1320.74 L1012.85 1320.96 L1014.79 1321.13 L1016.74 1321.27 L1018.69 1321.37 L1020.64 1321.43 L1022.59 1321.45" stroke="#0000ff" stroke-dasharray="44.238 27.162"/>
<defs><path id="m3" d="M87.21 1309.98 L89.16 1309.96 L91.11 1309.90 L93.06 1309.80 L95.01 1309.67 L96.95 1309.49 L98.90 1309.27 L100.85 1309.02 L102.80 1308.72 L104.75 1308.39 L106.70 1308.02 L108.65 1307.61 L110.60 1307.16 L112.54 1306.67 L114.49 1306.15 L116.44 1305.59 L118.39 1304.99 L120.34 1304.35 L122.29 1303.68 L124.24 1302.97 L126.19 1302.23 L128.13 1301.45 L130.08 1300.64 L132.03 1299.79 L133.98 1298.90 L135.93 1297.99 L137.88 1297.04 L139.83 1296.06 L141.77 1295.04 L143.72 1294.00 L145.67 1292.92 L147.62 1291.82 L149.57 1290.68 L151.52 1289.51 L153.47 1288.32 L155.42 1287.09 L157.36 1285.84 L159.31 1284.57 L161.26 1283.26 L163.21 1281.93 L165.16 1280.57 L167.11 1279.19 L169.06 1277.79 L171.01 1276.36 L172.95 1274.91 L174.90 1273.44 L176.85 1271.95 L178.80 1270.44 L180.75 1268.90 L182.70 1267.35 L184.65 1265.78 L186.59 1264.19 L188.54 1262.58 L190.49 1260.96 L192.44 1259.32 L194.39 1257.67 L196.34 1256.00 L198.29 1254.31 L200.24 1252.62 L202.18 1250.91 L204.13 1249.19 L206.08 1247.46 L208.03 1245.71 L209.98 1243.96 L211.93 1242.20 L213.88 1240.43 L215.83 1238.65 L217.77 1236.86 L219.72 1235.07 L221.67 1233.27 L223.62 1231.46 L225.57 1229.65 L227.52 1227.84 L229.47 1226.02 L231.42 1224.19 L233.36 1222.37 L235.31 1220.54 L237.26 1218.71 L239.21 1216.88 L241.16 1215.05 L243.11 1213.22 L245.06 1211.38 L247.00 1209.55 L248.95 1207.72 L250.90 1205.90 L252.85 1204.07 L254.80 1202.25 L256.75 1200.42 L258.70 1198.61 L260.65 1196.79 L262.59 1194.99 L264.54 1193.18 L266.49 1191.38 L268.44 1189.59 L270.39 1187.80 L272.34 1186.02 L274.29 1184.24 L276.24 1182.47 L278.18 1180.71 L280.13 1178.95 L282.08 1177.21 L284.03 1175.47 L285.98 1173.74 L287.93 1172.01 L289.88 1170.30 L291.82 1168.59 L293.77 1166.90 L295.72 1165.21 L297.67 1163.54 L299.62 1161.87 L301.57 1160.21 L303.52 1158.57 L305.47 1156.93 L307.41 1155.31 L309.36 1153.69 L311.31 1152.09 L313.26 1150.50 L315.21 1148.92 L317.16 1147.35 L319.11 1145.79 L321.06 1144.25 L323.00 1142.71 L324.95 1141.19 L326.90 1139.68 L328.85 1138.18 L330.80 1136.70 L332.75 1135.23 L334.70 1133.77 L336.65 1132.32 L338.59 1130.89 L340.54 1129.47 L342.49 1128.06 L344.44 1126.66 L346.39 1125.28 L348.34 1123.91 L350.29 1122.55 L352.23 1121.21 L354.18 1119.88 L356.13 1118.57 L358.08 1117.26 L360.03 1115.98 L361.98 1114.70 L363.93 1113.44 L365.88 1112.19 L367.82 1110.95 L369.77 1109.73 L371.72 1108.53 L373.67 1107.33 L375.62 1106.15 L377.57 1104.99 L379.52 1103.84 L381.47 1102.70 L383.41 1101.57 L385.36 1100.46 L387.31 1099.36 L389.26 1098.28 L391.21 1097.21 L393.16 1096.16 L395.11 1095.12 L397.05 1094.09 L399.00 1093.07 L400.95 1092.08 L402.90 1091.09 L404.85 1090.12 L406.80 1089.16 L408.75 1088.22 L410.70 1087.28 L412.64 1086.37 L414.59 1085.47 L416.54 1084.58 L418.49 1083.70 L420.44 1082.84 L422.39 1081.99 L424.34 1081.16 L426.29 1080.34 L428.23 1079.53 L430.18 1078.74 L432.13 1077.96 L434.08 1077.20 L436.03 1076.44 L437.98 1075.71 L439.93 1074.98 L441.88 1074.27 L443.82 1073.57 L445.77 1072.89 L447.72 1072.22 L449.67 1071.56 L451.62 1070.91 L453.57 1070.28 L455.52 1069.66 L457.46 1069.06 L459.41 1068.47 L461.36 1067.89 L463.31 1067.32 L465.26 1066.77 L467.21 1066.23 L469.16 1065.70 L471.11 1065.19 L473.05 1064.69 L475.00 1064.20 L476.95 1063.72 L478.90 1063.26 L480.85 1062.81 L482.80 1062.37 L484.75 1061.95 L486.70 1061.53 L488.64 1061.13 L490.59 1060.74 L492.54 1060.37 L494.49 1060.00 L496.44 1059.65 L498.39 1059.31 L500.34 1058.98 L502.28 1058.67 L504.23 1058.36 L506.18 1058.07 L508.13 1057.79 L510.08 1057.52 L512.03 1057.26 L513.98 1057.02 L515.93 1056.79 L517.87 1056.56 L519.82 1056.35 L521.77 1056.16 L523.72 1055.97 L525.67 1055.79 L527.62 1055.63 L529.57 1055.48 L531.52 1055.34 L533.46 1055.21 L535.41 1055.09 L537.36 1054.98 L539.31 1054.89 L541.26 1054.80 L543.21 1054.73 L545.16 1054.67 L547.11 1054.62 L549.05 1054.58 L551.00 1054.55 L552.95 1054.53 L554.90 1054.53 L556.85 1054.53 L558.80 1054.55 L560.75 1054.58 L562.69 1054.62 L564.64 1054.67 L566.59 1054.73 L568.54 1054.80 L570.49 1054.89 L572.44 1054.98 L574.39 1055.09 L576.34 1055.21 L578.28 1055.34 L580.23 1055.48 L582.18 1055.63 L584.13 1055.79 L586.08 1055.97 L588.03 1056.16 L589.98 1056.35 L591.93 1056.56 L593.87 1056.79 L595.82 1057.02 L597.77 1057.26 L599.72 1057.52 L601.67 1057.79 L603.62 1058.07 L605.57 1058.36 L607.52 1058.67 L609.46 1058.98 L611.41 1059.31 L613.36 1059.65 L615.31 1060.00 L617.26 1060.37 L619.21 1060.74 L621.16 1061.13 L623.10 1061.53 L625.05 1061.95 L627.00 1062.37 L628.95 1062.81 L630.90 1063.26 L632.85 1063.72 L634.80 1064.20 L636.75 1064.69 L638.69 1065.19 L640.64 1065.70 L642.59 1066.23 L644.54 1066.77 L646.49 1067.32 L648.44 1067.89 L650.39 1068.47 L652.34 1069.06 L654.28 1069.66 L656.23 1070.28 L658.18 1070.91 L660.13 1071.56 L662.08 1072.22 L664.03 1072.89 L665.98 1073.57 L667.92 1074.27 L669.87 1074.98 L671.82 1075.71 L673.77 1076.44 L675.72 1077.20 L677.67 1077.96 L679.62 1078.74 L681.57 1079.53 L683.51 1080.34 L685.46 1081.16 L687.41 1081.99 L689.36 1082.84 L691.31 1083.70 L693.26 1084.58 L695.21 1085.47 L697.16 1086.37 L699.10 1087.28 L701.05 1088.22 L703.00 1089.16 L704.95 1090.12 L706.90 1091.09 L708.85 1092.08 L710.80 1093.07 L712.75 1094.09 L714.69 1095.12 L716.64 1096.16 L718.59 1097.21 L720.54 1098.28 L722.49 1099.36 L724.44 1100.46 L726.39 1101.57 L728.33 1102.70 L730.28 1103.84 L732.23 1104.99 L734.18 1106.15 L736.13 1107.33 L738.08 1108.53 L740.03 1109.73 L741.98 1110.95 L743.92 1112.19 L745.87 1113.44 L747.82 1114.70 L749.77 1115.98 L751.72 1117.26 L753.67 1118.57 L755.62 1119.88 L757.57 1121.21 L759.51 1122.55 L761.46 1123.91 L763.41 1125.28 L765.36 1126.66 L767.31 1128.06 L769.26 1129.47 L771.21 1130.89 L773.15 1132.32 L775.10 1133.77 L777.05 1135.23 L779.00 1136.70 L780.95 1138.18 L782.90 1139.68 L784.85 1141.19 L786.80 1142.71 L788.74 1144.25 L790.69 1145.79 L792.64 1147.35 L794.59 1148.92 L796.54 1150.50 L798.49 1152.09 L800.44 1153.69 L802.39 1155.31 L804.33 1156.93 L806.28 1158.57 L808.23 1160.21 L810.18 1161.87 L812.13 1163.54 L814.08 1165.21 L816.03 1166.90 L817.98 1168.59 L819.92 1170.30 L821.87 1172.01 L823.82 1173.74 L825.77 1175.47 L827.72 1177.21 L829.67 1178.95 L831.62 1180.71 L833.56 1182.47 L835.51 1184.24 L837.46 1186.02 L839.41 1187.80 L841.36 1189.59 L843.31 1191.38 L845.26 1193.18 L847.21 1194.99 L849.15 1196.79 L851.10 1198.61 L853.05 1200.42 L855.00 1202.25 L856.95 1204.07 L858.90 1205.90 L860.85 1207.72 L862.80 1209.55 L864.74 1211.38 L866.69 1213.22 L868.64 1215.05 L870.59 1216.88 L872.54 1218.71 L874.49 1220.54 L876.44 1222.37 L878.38 1224.19 L880.33 1226.02 L882.28 1227.84 L884.23 1229.65 L886.18 1231.46 L888.13 1233.27 L890.08 1235.07 L892.03 1236.86 L893.97 1238.65 L895.92 1240.43 L897.87 1242.20 L899.82 1243.96 L901.77 1245.71 L903.72 1247.46 L905.67 1249.19 L907.62 1250.91 L909.56 1252.62 L911.51 1254.31 L913.46 1256.00 L915.41 1257.67 L917.36 1259.32 L919.31 1260.96 L921.26 1262.58 L923.21 1264.19 L925.15 1265.78 L927.10 1267.35 L929.05 1268.90 L931.00 1270.44 L932.95 1271.95 L934.90 1273.44 L936.85 1274.91 L938.79 1276.36 L940.74 1277.79 L942.69 1279.19 L944.64 1280.57 L946.59 1281.93 L948.54 1283.26 L950.49 1284.57 L952.44 1285.84 L954.38 1287.09 L956.33 1288.32 L958.28 1289.51 L960.23 1290.68 L962.18 1291.82 L964.13 1292.92 L966.08 1294.00 L968.03 1295.04 L969.97 1296.06 L971.92 1297.04 L973.87 1297.99 L975.82 1298.90 L977.77 1299.79 L979.72 1300.64 L981.67 1301.45 L983.61 1302.23 L985.56 1302.97 L987.51 1303.68 L989.46 1304.35 L991.41 1304.99 L993.36 1305.59 L995.31 1306.15 L997.26 1306.67 L999.20 1307.16 L1001.15 1307.61 L1003.10 1308.02 L1005.05 1308.39 L1007.00 1308.72 L1008.95 1309.02 L1010.90 1309.27 L1012.85 1309.49 L1014.79 1309.67 L1016.74 1309.80 L1018.69 1309.90 L1020.64 1309.96 L1022.59 1309.98"/></defs>
<use href="#m3" stroke="#ff0000" stroke-width="5.3"/>
<use href="#m3" stroke="#00ffff" stroke-width="5.9" stroke-dasharray="35.950 13.231 8.987 13.231"/>
<use href="#m3" stroke="#000000" stroke-width="5.9" stroke-dasharray="5.093 12.762"/>
</g>
<g fill="none" stroke-width="5.56">
<path d="M670.6 640.5H804.9" stroke="#0000ff" stroke-dasharray="44.3 27.2"/>
<path d="M670.6 696.4H804.9" stroke="#ff0000"/>
<path d="M670.6 752.3H804.9" stroke="#00ffff" stroke-dasharray="36.0 13.25 9.0 13.25"/>
<path d="M670.6 808.1H804.9" stroke="#000000" stroke-dasharray="5.1 12.78"/>
</g>
<g font-family="'Liberation Sans', sans-serif" font-size="45.4" fill="#262626" stroke="#262626" stroke-width="0.70" stroke-linejoin="round">
<text x="41.96" y="150.99">2</text>
<text x="41.96" y="272.55">0</text>
<text x="23.64" y="394.11">-2</text>
<text x="42.96" y="553.50">1</text>
<text x="41.96" y="740.55">0</text>
<text x="24.54" y="927.60">-1</text>
<text x="-2.90" y="1021.50">-10</text>
<text x="-3.20" y="1146.20">-15</text>
<text x="-3.40" y="1270.90">-20</text>
<text x="-3.50" y="1395.60">-25</text>
<text x="86.17" y="1443.30">-3</text>
<text x="234.97" y="1443.30">-2</text>
<text x="383.77" y="1443.30">-1</text>
<text x="541.73" y="1443.30">0</text>
<text x="690.53" y="1443.30">1</text>
<text x="839.33" y="1443.30">2</text>
<text x="988.13" y="1443.30">3</text>
</g>
<g fill="#fff"><rect x="44.96" y="548.80" width="9.24" height="6.90"/><rect x="58.91" y="548.80" width="9.00" height="6.90"/><rect x="41.66" y="922.90" width="9.24" height="6.90"/><rect x="55.61" y="922.90" width="9.00" height="6.90"/><rect x="14.22" y="1016.80" width="9.24" height="6.90"/><rect x="28.17" y="1016.80" width="9.00" height="6.90"/><rect x="13.92" y="1141.50" width="9.24" height="6.90"/><rect x="27.87" y="1141.50" width="9.00" height="6.90"/><rect x="400.89" y="1438.60" width="9.24" height="6.90"/><rect x="414.84" y="1438.60" width="9.00" height="6.90"/><rect x="692.53" y="1438.60" width="9.24" height="6.90"/><rect x="706.48" y="1438.60" width="9.00" height="6.90"/></g>
<text transform="matrix(0.6494 0 0.0000 0.5075 404.43 47.85)" font-family="'Liberation Serif', serif" font-style="italic" font-size="100" fill="#000" stroke="#fff" stroke-width="0.80" vector-effect="non-scaling-stroke">n</text>
<text transform="matrix(0.2097 0 0.0000 0.2741 411.69 32.17)" font-family="'DejaVu Sans', sans-serif" font-style="normal" font-size="100" fill="#000">^</text>
<text transform="matrix(0.4000 0 0.0000 0.3500 434.00 53.95)" font-family="'Liberation Serif', serif" font-style="normal" font-size="100" fill="#000">e</text>
<text transform="matrix(0.5389 0 0.0000 0.4829 468.51 46.62)" font-family="'Liberation Serif', serif" font-style="normal" font-size="100" fill="#000">due</text>
<text transform="matrix(0.5658 0 0.0000 0.5386 562.73 46.56)" font-family="'Liberation Serif', serif" font-style="normal" font-size="100" fill="#000">to</text>
<text transform="matrix(0.5967 0 0.0000 0.5206 623.80 46.60)" font-family="'Liberation Serif', serif" font-style="italic" font-size="100" fill="#000">E</text>
<text transform="matrix(0.2129 0 0.0000 0.2741 636.46 19.77)" font-family="'DejaVu Sans', sans-serif" font-style="normal" font-size="100" fill="#000">^</text>
<text transform="matrix(0.3255 0 0.0000 0.3956 660.24 55.59)" font-family="'Liberation Serif', serif" font-style="normal" font-size="100" fill="#000">(</text>
<text transform="matrix(0.3714 0 0.0000 0.3733 670.91 56.23)" font-family="'Liberation Serif', serif" font-style="normal" font-size="100" fill="#000">0</text>
<text transform="matrix(0.3385 0 0.0000 0.3956 688.98 55.59)" font-family="'Liberation Serif', serif" font-style="normal" font-size="100" fill="#000">)</text>
<text transform="matrix(0.6291 0 0.0000 0.5308 402.71 514.90)" font-family="'Liberation Serif', serif" font-style="italic" font-size="100" fill="#000" stroke="#fff" stroke-width="0.60" vector-effect="non-scaling-stroke">T</text>
<text transform="matrix(0.2194 0 0.0000 0.2741 418.79 488.07)" font-family="'DejaVu Sans', sans-serif" font-style="normal" font-size="100" fill="#000">^</text>
<text transform="matrix(0.4000 0 0.0000 0.3500 434.00 521.95)" font-family="'Liberation Serif', serif" font-style="normal" font-size="100" fill="#000">e</text>
<text transform="matrix(0.5389 0 0.0000 0.4829 468.51 514.62)" font-family="'Liberation Serif', serif" font-style="normal" font-size="100" fill="#000">due</text>
<text transform="matrix(0.5658 0 0.0000 0.5386 562.73 514.56)" font-family="'Liberation Serif', serif" font-style="normal" font-size="100" fill="#000">to</text>
<text transform="matrix(0.5967 0 0.0000 0.5206 623.80 514.60)" font-family="'Liberation Serif', serif" font-style="italic" font-size="100" fill="#000">E</text>
<text transform="matrix(0.2129 0 0.0000 0.2741 636.46 487.77)" font-family="'DejaVu Sans', sans-serif" font-style="normal" font-size="100" fill="#000">^</text>
<text transform="matrix(0.3255 0 0.0000 0.3956 660.24 523.59)" font-family="'Liberation Serif', serif" font-style="normal" font-size="100" fill="#000">(</text>
<text transform="matrix(0.3714 0 0.0000 0.3733 670.91 524.23)" font-family="'Liberation Serif', serif" font-style="normal" font-size="100" fill="#000">0</text>
<text transform="matrix(0.3385 0 0.0000 0.3956 688.98 523.59)" font-family="'Liberation Serif', serif" font-style="normal" font-size="100" fill="#000">)</text>
<text transform="matrix(0.6313 0 0.0000 0.4915 404.34 983.01)" font-family="'Liberation Serif', serif" font-style="italic" font-size="100" fill="#000" stroke="#fff" stroke-width="0.80" vector-effect="non-scaling-stroke">u</text>
<text transform="matrix(0.2145 0 0.0000 0.2778 412.74 968.44)" font-family="'DejaVu Sans', sans-serif" font-style="normal" font-size="100" fill="#000">^</text>
<text transform="matrix(0.4000 0 0.0000 0.3500 434.00 989.95)" font-family="'Liberation Serif', serif" font-style="normal" font-size="100" fill="#000">e</text>
<text transform="matrix(0.5389 0 0.0000 0.4829 468.51 982.62)" font-family="'Liberation Serif', serif" font-style="normal" font-size="100" fill="#000">due</text>
<text transform="matrix(0.5658 0 0.0000 0.5386 562.73 982.56)" font-family="'Liberation Serif', serif" font-style="normal" font-size="100" fill="#000">to</text>
<text transform="matrix(0.5967 0 0.0000 0.5206 623.80 982.60)" font-family="'Liberation Serif', serif" font-style="italic" font-size="100" fill="#000">E</text>
<text transform="matrix(0.2129 0 0.0000 0.2741 636.46 955.77)" font-family="'DejaVu Sans', sans-serif" font-style="normal" font-size="100" fill="#000">^</text>
<text transform="matrix(0.3255 0 0.0000 0.3956 660.24 991.59)" font-family="'Liberation Serif', serif" font-style="normal" font-size="100" fill="#000">(</text>
<text transform="matrix(0.3714 0 0.0000 0.3733 670.91 992.23)" font-family="'Liberation Serif', serif" font-style="normal" font-size="100" fill="#000">0</text>
<text transform="matrix(0.3385 0 0.0000 0.3956 688.98 991.59)" font-family="'Liberation Serif', serif" font-style="normal" font-size="100" fill="#000">)</text>
<text transform="matrix(0.4652 0 0.0000 0.4940 817.60 652.11)" font-family="'Liberation Serif', serif" font-style="normal" font-size="100" fill="#000">NoCie</text>
<text transform="matrix(0.4598 0 0.0000 0.4978 818.46 708.00)" font-family="'Liberation Serif', serif" font-style="normal" font-size="100" fill="#000">C01N</text>
<text transform="matrix(0.4603 0 0.0000 0.4955 818.46 764.10)" font-family="'Liberation Serif', serif" font-style="normal" font-size="100" fill="#000">C1N</text>
<text transform="matrix(0.4588 0 0.0000 0.4785 818.46 819.42)" font-family="'Liberation Serif', serif" font-style="normal" font-size="100" fill="#000">C01</text>
<text transform="matrix(0.6281 0 -0.0327 0.6535 535.19 1524.85)" font-family="'Liberation Serif', serif" font-style="italic" font-size="100" fill="#262626">θ</text>
</svg>
</body></html>
